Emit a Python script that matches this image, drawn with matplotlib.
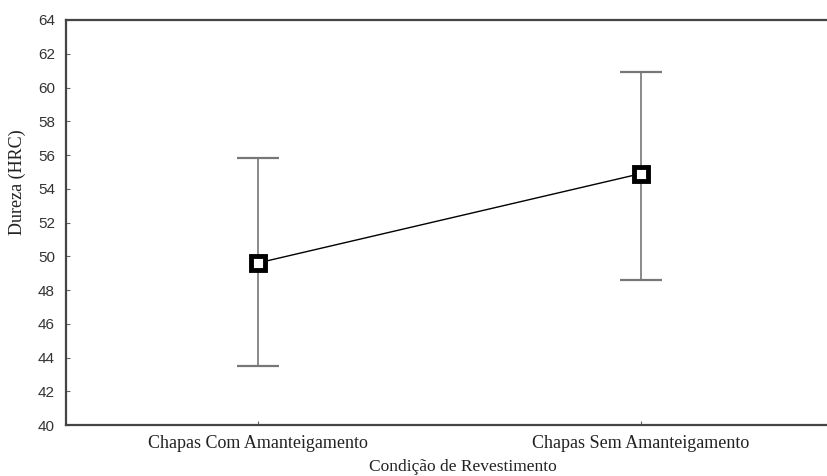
import matplotlib
matplotlib.use("Agg")
import matplotlib.pyplot as plt

categories = ["Chapas Com Amanteigamento", "Chapas Sem Amanteigamento"]
means = [49.6, 54.9]
upper = [55.8, 60.9]
lower = [43.5, 48.6]
yticks = list(range(40, 65, 2))

err_low = [m - l for m, l in zip(means, lower)]
err_high = [u - m for m, u in zip(means, upper)]
x = list(range(len(categories)))

fig = plt.figure(figsize=(8.27, 4.76), dpi=100)
ax = fig.add_axes([0.0798, 0.107, 0.927, 0.851])

ax.errorbar(x, means, yerr=[err_low, err_high], fmt="none", ecolor="#777777",
            elinewidth=1.2, capsize=15, capthick=1.6, zorder=2)
ax.plot(x, means, color="black", lw=1.0, zorder=3)
ax.plot(x, means, ls="none", marker="s", ms=10, mfc="white", mec="black", mew=3.5, zorder=4)

ax.set_xlim(-0.5, 1.5)
ax.set_ylim(40, 64)
ax.set_yticks(yticks)
ax.set_xticks(x)
ax.set_xticklabels(categories, family="Liberation Serif", fontsize=13, color="#222")
for t in ax.get_yticklabels():
    t.set_family("Liberation Sans")
    t.set_fontsize(11)
    t.set_color("#333")
ax.tick_params(direction="in", length=3, color="#666", width=0.8)
ax.tick_params(axis="y", pad=8)
ax.tick_params(axis="x", pad=7)

for s in ["top", "left", "bottom"]:
    ax.spines[s].set_color("#444")
    ax.spines[s].set_linewidth(1.6)
ax.spines["right"].set_visible(False)

ax.set_ylabel("Dureza (HRC)", family="Liberation Serif", fontsize=13, color="#222")
ax.yaxis.set_label_coords(-0.052, 0.6)
ax.set_xlabel("Condição de Revestimento", family="Liberation Serif", fontsize=12.5, color="#222")
ax.xaxis.set_label_coords(0.518, -0.085)

fig.savefig("out.png", dpi=100)
plt.close(fig)
